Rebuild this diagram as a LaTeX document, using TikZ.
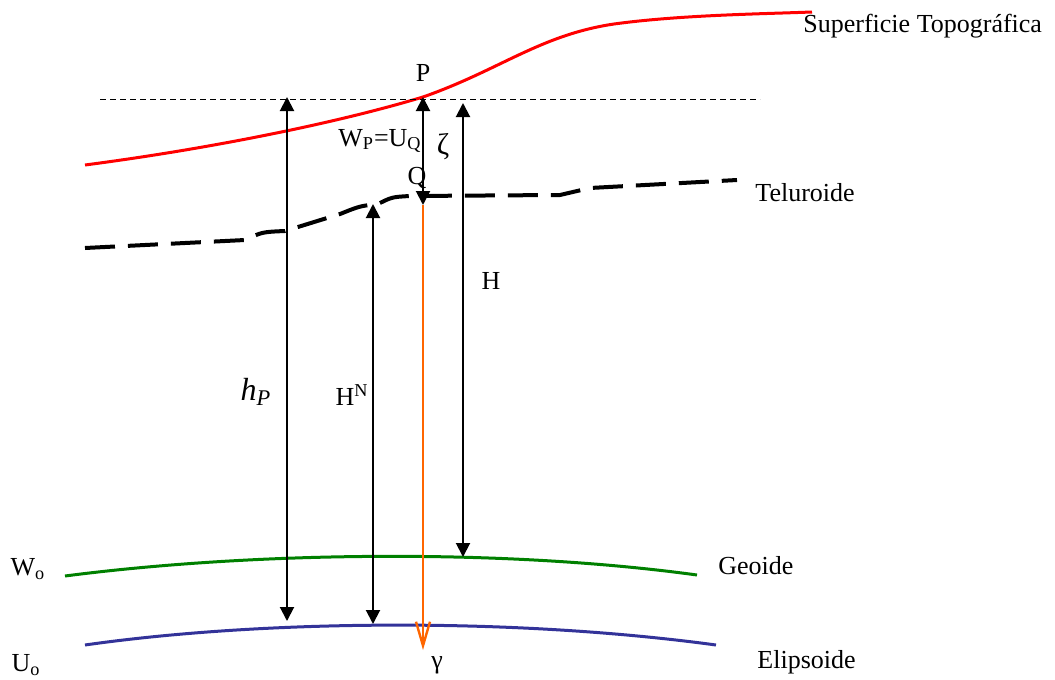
\documentclass[tikz,border=0pt]{standalone}
\usepackage{fontspec}
\setmainfont{Liberation Serif}
\usetikzlibrary{arrows.meta}
\definecolor{geoidcol}{RGB}{0,128,0}
\definecolor{elipcol}{RGB}{51,51,153}
\definecolor{normcol}{RGB}{255,102,0}

\begin{document}
\begin{tikzpicture}[x=0.5pt,y=-0.5pt,
  every node/.style={font=\fontsize{13pt}{15pt}\selectfont, inner sep=0pt},
  surface/.style={line width=1.5pt},
  dimarrow/.style={line width=1pt, {Triangle[length=7pt,width=7pt]}-{Triangle[length=7pt,width=7pt]}}]
\useasboundingbox (0,0) rectangle (1055,680);
% superficies
\draw[surface, red] (85,165) .. controls (200,150) and (330,125) .. (423,97)
  .. controls (500,70) and (540,35) .. (614,24) .. controls (680,15) and (760,14) .. (812,12);
\draw[surface, line width=2pt, dash pattern=on 15pt off 6.5pt] (85,248) -- (245,240)
  .. controls (262,232) .. (285,231) -- (340,214) .. controls (360,206) .. (378,204)
  .. controls (392,197) .. (410,196) -- (560,195) -- (590,188) -- (737,180);
\draw[surface, geoidcol] (65,576) .. controls (250,552) and (500,548) .. (697,575);
\draw[surface, elipcol] (85,645) .. controls (260,620) and (510,617) .. (716,645);
\draw[line width=0.5pt, dash pattern=on 3pt off 2pt] (100,99) -- (760,99);
% puntos
\coordinate (P) at (423,97);
\coordinate (Q) at (423,205);
\coordinate (gam) at (423,650);
\coordinate (hPtop) at (287,97);
\coordinate (hPbot) at (287,621);
\coordinate (HNtop) at (373,204);
\coordinate (HNbot) at (373,624);
\coordinate (Htop) at (463,103);
\coordinate (Hbot) at (463,557);
% normal
\draw[normcol, line width=1.2pt, -{Straight Barb[length=12pt,width=7pt]}] (Q) -- (gam);
% alturas
\foreach \a/\b in {hPtop/hPbot,HNtop/HNbot,Htop/Hbot,P/Q}
  \draw[dimarrow] (\a) -- (\b);
% textos
\node (lP) at (423,73) {P};
\node (lWU) at (380,141) {W\textsubscript{P}=U\textsubscript{Q}};
\node[font=\fontsize{15pt}{17pt}\selectfont] (lzeta) at (443,147) {ζ};
\node (lQ) at (417,178) {Q};
\node[anchor=west] (lsup) at (803,26) {Superficie Topográfica};
\node[anchor=west] (ltel) at (755,193) {Teluroide};
\node (lH) at (491,281) {H};
\node[font=\fontsize{16pt}{18pt}\selectfont] (lhP) at (256,392) {\textit{h}\textsubscript{\textit{P}}};
\node (lHN) at (352,395) {H\textsuperscript{N}};
\node[anchor=west] (lgeo) at (718,566) {Geoide};
\node[anchor=west] (lelip) at (757,662) {Elipsoide};
\node (lW) at (28,569) {W\textsubscript{o}};
\node (lU) at (26,665) {U\textsubscript{o}};
\node (lgam) at (437,665) {γ};
\end{tikzpicture}
\end{document}
